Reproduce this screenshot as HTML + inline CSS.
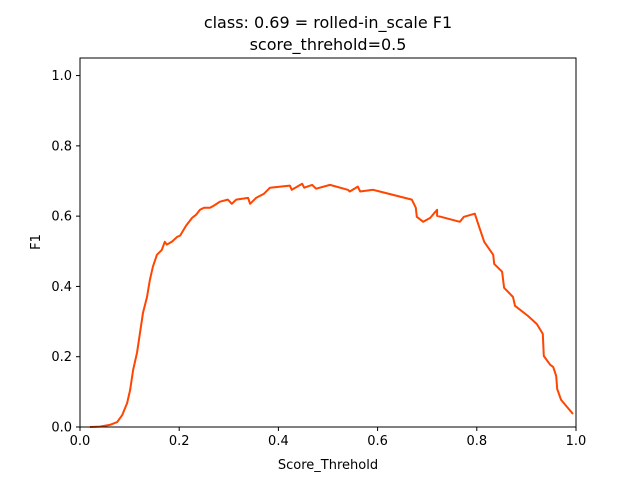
<!DOCTYPE html>
<html><head><meta charset="utf-8"><style>
html,body{margin:0;padding:0;background:#fff;}
svg{display:block;font-family:"DejaVu Sans","Liberation Sans",sans-serif;}
</style></head><body>
<svg id="chart" width="640" height="480" viewBox="0 0 640 480">
<rect x="0" y="0" width="640" height="480" fill="#fff"/>
<text x="328" y="28" text-anchor="middle" font-size="16" fill="#000">class: 0.69 = rolled-in_scale F1</text>
<text x="328" y="50" text-anchor="middle" font-size="16" fill="#000">score_threhold=0.5</text>
<g id="ticks"></g>
<path id="line" fill="none" stroke="#ff4500" stroke-width="2" stroke-linejoin="round"/>
<rect x="80" y="58" width="496" height="369" fill="none" stroke="#000" stroke-width="1"/>
<text x="328" y="469" text-anchor="middle" font-size="13">Score_Threhold</text>
<text x="0" y="0" text-anchor="middle" font-size="13" transform="translate(40,242) rotate(-90)">F1</text>
</svg>
<script>
const xTicks=[0,0.2,0.4,0.6,0.8,1.0];
const xTickLabels=["0.0","0.2","0.4","0.6","0.8","1.0"];
const yTicks=[0,0.2,0.4,0.6,0.8,1.0];
const yTickLabels=["0.0","0.2","0.4","0.6","0.8","1.0"];
const thresholds=[.020,.040,.060,.075,.085,.095,.101,.107,.115,.121,.127,.135,.141,.147,.155,.165,.171,.175,.185,.196,.202,.214,.226,.234,.242,.250,.262,.270,.282,.298,.306,.315,.339,.343,.355,.371,.383,.423,.427,.448,.452,.468,.476,.504,.540,.544,.560,.565,.591,.669,.677,.679,.692,.706,.720,.720,.766,.774,.796,.802,.815,.833,.835,.851,.855,.873,.877,.903,.921,.933,.935,.948,.954,.960,.962,.970,.994];
const f1Values=[0,.001,.006,.014,.034,.068,.105,.162,.211,.268,.325,.370,.419,.456,.490,.504,.527,.519,.527,.541,.545,.573,.595,.604,.618,.624,.624,.630,.641,.647,.635,.647,.652,.635,.652,.664,.681,.687,.675,.692,.681,.689,.678,.689,.675,.670,.684,.670,.675,.647,.624,.598,.584,.595,.618,.601,.584,.598,.607,.581,.527,.490,.464,.442,.396,.370,.345,.316,.293,.265,.202,.177,.171,.145,.108,.077,.037];
const X0=80,X1=576,Y0=427,Y1=58,YMAX=1.05;
function sx(v){return X0+(X1-X0)*v;}
function sy(v){return Y0-(Y0-Y1)*v/YMAX;}
const NS="http://www.w3.org/2000/svg";
const g=document.getElementById('ticks');
xTicks.forEach((t,i)=>{
  const l=document.createElementNS(NS,'line');
  l.setAttribute('x1',sx(t));l.setAttribute('x2',sx(t));l.setAttribute('y1',Y0);l.setAttribute('y2',Y0+4);l.setAttribute('stroke','#000');
  
  
  g.appendChild(l);
  const tx=document.createElementNS(NS,'text');
  tx.setAttribute('x',sx(t));tx.setAttribute('y',Y0+18);tx.setAttribute('text-anchor','middle');tx.setAttribute('font-size','13');
  tx.textContent=xTickLabels[i];
  
  
  g.appendChild(tx);
});
yTicks.forEach((t,i)=>{
  const l=document.createElementNS(NS,'line');
  l.setAttribute('x1',X0-4);l.setAttribute('x2',X0);l.setAttribute('y1',sy(t));l.setAttribute('y2',sy(t));l.setAttribute('stroke','#000');
  
  
  g.appendChild(l);
  const tx=document.createElementNS(NS,'text');
  tx.setAttribute('x',X0-8);tx.setAttribute('y',sy(t)+4.5);tx.setAttribute('text-anchor','end');tx.setAttribute('font-size','13');
  tx.textContent=yTickLabels[i];
  
  
  g.appendChild(tx);
});
let d='';
thresholds.forEach((x,i)=>{d+=(i?'L':'M')+sx(x).toFixed(1)+','+sy(f1Values[i]).toFixed(1);});
document.getElementById('line').setAttribute('d',d);
</script>
</body></html>
